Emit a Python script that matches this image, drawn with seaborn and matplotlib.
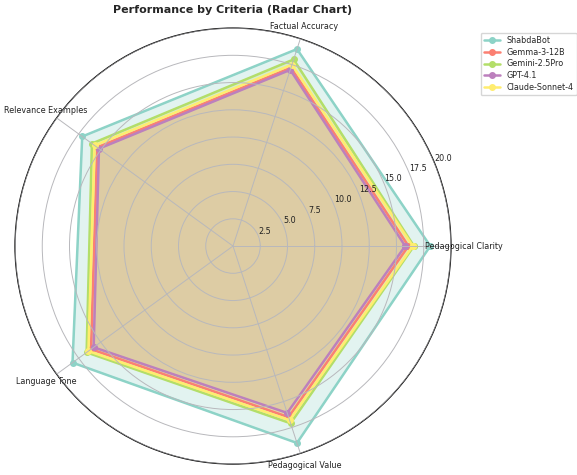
import numpy as np
import seaborn as sns
import matplotlib
matplotlib.use("Agg")
import matplotlib.pyplot as plt

criteria = ["Pedagogical Clarity", "Factual Accuracy", "Relevance Examples",
            "Language Tone", "Pedagogical Value"]
models = ["ShabdaBot", "Gemma-3-12B", "Gemini-2.5Pro", "GPT-4.1",
          "Claude-Sonnet-4"]
shabdabot = [18.1, 19.0, 17.1, 18.2, 19.0]
gemma = [16.1, 17.2, 15.4, 16.1, 16.5]
gemini = [16.6, 18.0, 16.0, 16.6, 17.1]
gpt41 = [15.8, 17.0, 15.2, 15.8, 16.1]
claude = [16.5, 17.5, 15.7, 16.4, 16.8]
scores = [shabdabot, gemma, gemini, gpt41, claude]
rticks = [2.5, 5.0, 7.5, 10.0, 12.5, 15.0, 17.5, 20.0]

sns.set_style("white")
plt.rcParams["font.family"] = ["DejaVu Sans"]

set3 = sns.color_palette("Set3", 12)
colors = [set3[i] for i in (0, 3, 6, 9, 11)]

angles = np.linspace(0, 2 * np.pi, len(criteria), endpoint=False)
closed = np.concatenate([angles, angles[:1]])

fig = plt.figure(figsize=(5.77, 4.75), dpi=100)
ax = fig.add_axes([0.026, 0.023, 0.7556, 0.918], polar=True)

for name, vals, col in zip(models, scores, colors):
    v = vals + vals[:1]
    ax.plot(closed, v, "o-", color=col, linewidth=1.8, markersize=4,
            label=name)
    ax.fill(closed, v, color=col, alpha=0.25)

ax.set_ylim(0, 20)
ax.set_yticks(rticks)
ax.set_yticklabels([str(t) for t in rticks], fontsize=5.8, color="#222222")
ax.set_xticks(angles)
ax.set_xticklabels(criteria, fontsize=5.8, color="#222222")
ax.tick_params(axis="x", pad=-1)
ax.set_axisbelow(False)
ax.grid(True, color="#b8b8bc", linewidth=0.7)
ax.spines["polar"].set_color("black")
ax.spines["polar"].set_linewidth(0.9)
ax.set_title("Performance by Criteria (Radar Chart)", fontsize=8,
             fontweight="bold", pad=11)

fig.legend(loc="upper left", bbox_to_anchor=(0.826, 0.94), fontsize=5.8,
           frameon=True, labelspacing=0.35)

fig.savefig("out.png", dpi=100)
